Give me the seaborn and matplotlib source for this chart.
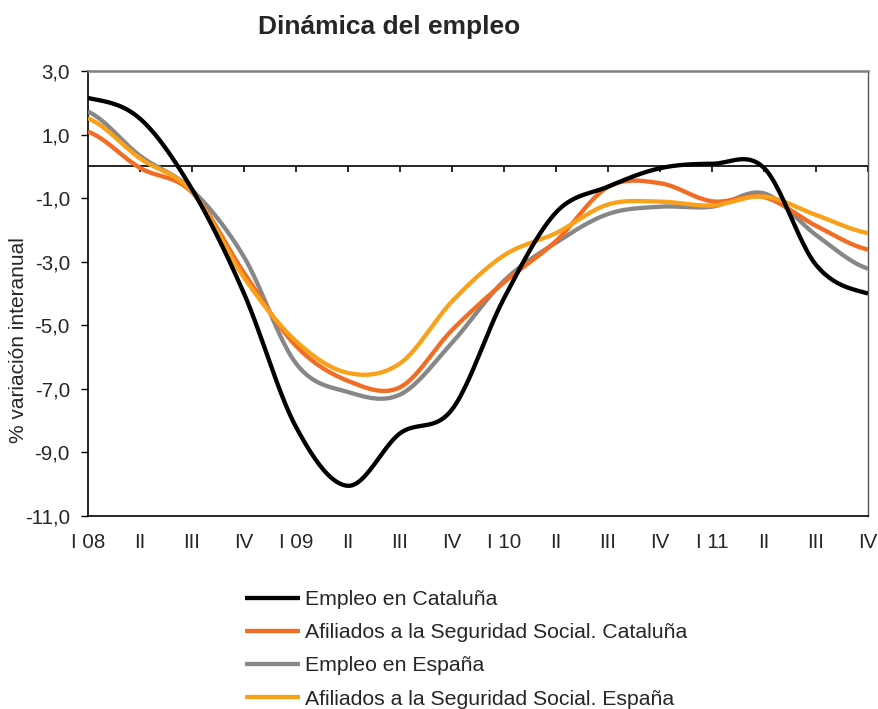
import numpy as np
import pandas as pd
import matplotlib
matplotlib.use("Agg")
import matplotlib.pyplot as plt
import seaborn as sns

# quarterly data (% year-on-year change)
quarters = ["I 08", "II", "III", "IV", "I 09", "II", "III", "IV",
            "I 10", "II", "III", "IV", "I 11", "II", "III", "IV"]
empleo_cat = [2.15, 1.5, -0.72, -4.0, -8.2, -10.05, -8.4, -7.65,
              -4.15, -1.45, -0.64, -0.06, 0.08, -0.05, -3.1, -4.0]
afiliados_cat = [1.09, -0.05, -0.82, -3.35, -5.65, -6.75, -6.95, -5.15,
                 -3.65, -2.35, -0.65, -0.53, -1.1, -0.97, -1.87, -2.62]
empleo_esp = [1.72, 0.33, -0.74, -2.85, -6.2, -7.1, -7.18, -5.55,
              -3.6, -2.4, -1.5, -1.27, -1.27, -0.85, -2.16, -3.22]
afiliados_esp = [1.51, 0.25, -0.8, -3.5, -5.5, -6.5, -6.2, -4.25,
                 -2.8, -2.1, -1.2, -1.11, -1.23, -0.95, -1.53, -2.1]

labels = ["Empleo en Cataluña",
          "Afiliados a la Seguridad Social. Cataluña",
          "Empleo en España",
          "Afiliados a la Seguridad Social. España"]
colors = ["#000000", "#F26C23", "#878787", "#F9A11B"]
zorders = [6, 4, 3, 5]


def smooth(values, n=24):
    # Excel-style smoothed line (Catmull-Rom through the quarterly points)
    p = np.asarray(values, dtype=float)
    p = np.concatenate([[p[0]], p, [p[-1]]])
    xs, ys = [], []
    t = np.linspace(0, 1, n, endpoint=False)
    for i in range(1, len(p) - 2):
        p0, p1, p2, p3 = p[i - 1], p[i], p[i + 1], p[i + 2]
        y = 0.5 * ((2 * p1) + (-p0 + p2) * t
                   + (2 * p0 - 5 * p1 + 4 * p2 - p3) * t ** 2
                   + (-p0 + 3 * p1 - 3 * p2 + p3) * t ** 3)
        xs.append(i - 1 + t)
        ys.append(y)
    xs.append([len(values) - 1])
    ys.append([values[-1]])
    return np.concatenate(xs), np.concatenate(ys)


sns.set_style("white")
plt.rcParams["font.family"] = ["Liberation Sans", "DejaVu Sans"]

fig = plt.figure(figsize=(8.79, 7.09), dpi=100)
ax = fig.add_axes([0.1001, 0.2722, 0.8874, 0.6277])

series = [empleo_cat, afiliados_cat, empleo_esp, afiliados_esp]
for vals, lab, col, z in zip(series, labels, colors, zorders):
    sx, sy = smooth(vals)
    sns.lineplot(x=sx, y=sy, ax=ax, color=col, linewidth=3.1, label=lab,
                 sort=False, zorder=z, solid_capstyle="butt")

# zero line with category tick marks (Excel axis crossing at 0)
ax.axhline(0, color="black", linewidth=1.2, zorder=2)
ax.vlines(range(1, len(quarters)), -0.17, 0, color="black", linewidth=1.2, zorder=2)

ax.set_xlim(0, len(quarters) - 1)
ax.set_ylim(-11, 3)
ax.set_xticks(range(len(quarters)))
ax.set_xticklabels(quarters)
yt = np.arange(-11, 4, 2)
ax.set_yticks(yt)
ax.set_yticklabels([f"{v:.1f}".replace(".", ",") for v in yt])
ax.tick_params(axis="x", length=0, pad=12, labelsize=14.8)
ax.tick_params(axis="y", left=True, length=5, width=1, direction="out",
               pad=8, labelsize=14.8, color="black")

for side in ["left", "bottom"]:
    ax.spines[side].set_color("black")
    ax.spines[side].set_linewidth(1.2)
ax.spines["top"].set_color("#808080")
ax.spines["top"].set_linewidth(1.8)
ax.spines["right"].set_color("#555555")
ax.spines["right"].set_linewidth(1.0)

ax.set_xlabel("")
ax.set_ylabel("% variación interanual", fontsize=15)
ax.yaxis.set_label_coords(-0.077, 0.395)

fig.text(0.4425, 0.962, "Dinámica del empleo", ha="center", va="center",
         fontsize=19, fontweight="bold")

ax.legend(loc="upper left", bbox_to_anchor=(0.279, 0.1679),
          bbox_transform=fig.transFigure, frameon=False, fontsize=15.3,
          handlelength=2.6, handletextpad=0.2, labelspacing=0.67,
          borderpad=0, borderaxespad=0)

fig.savefig("out.png", dpi=100)
